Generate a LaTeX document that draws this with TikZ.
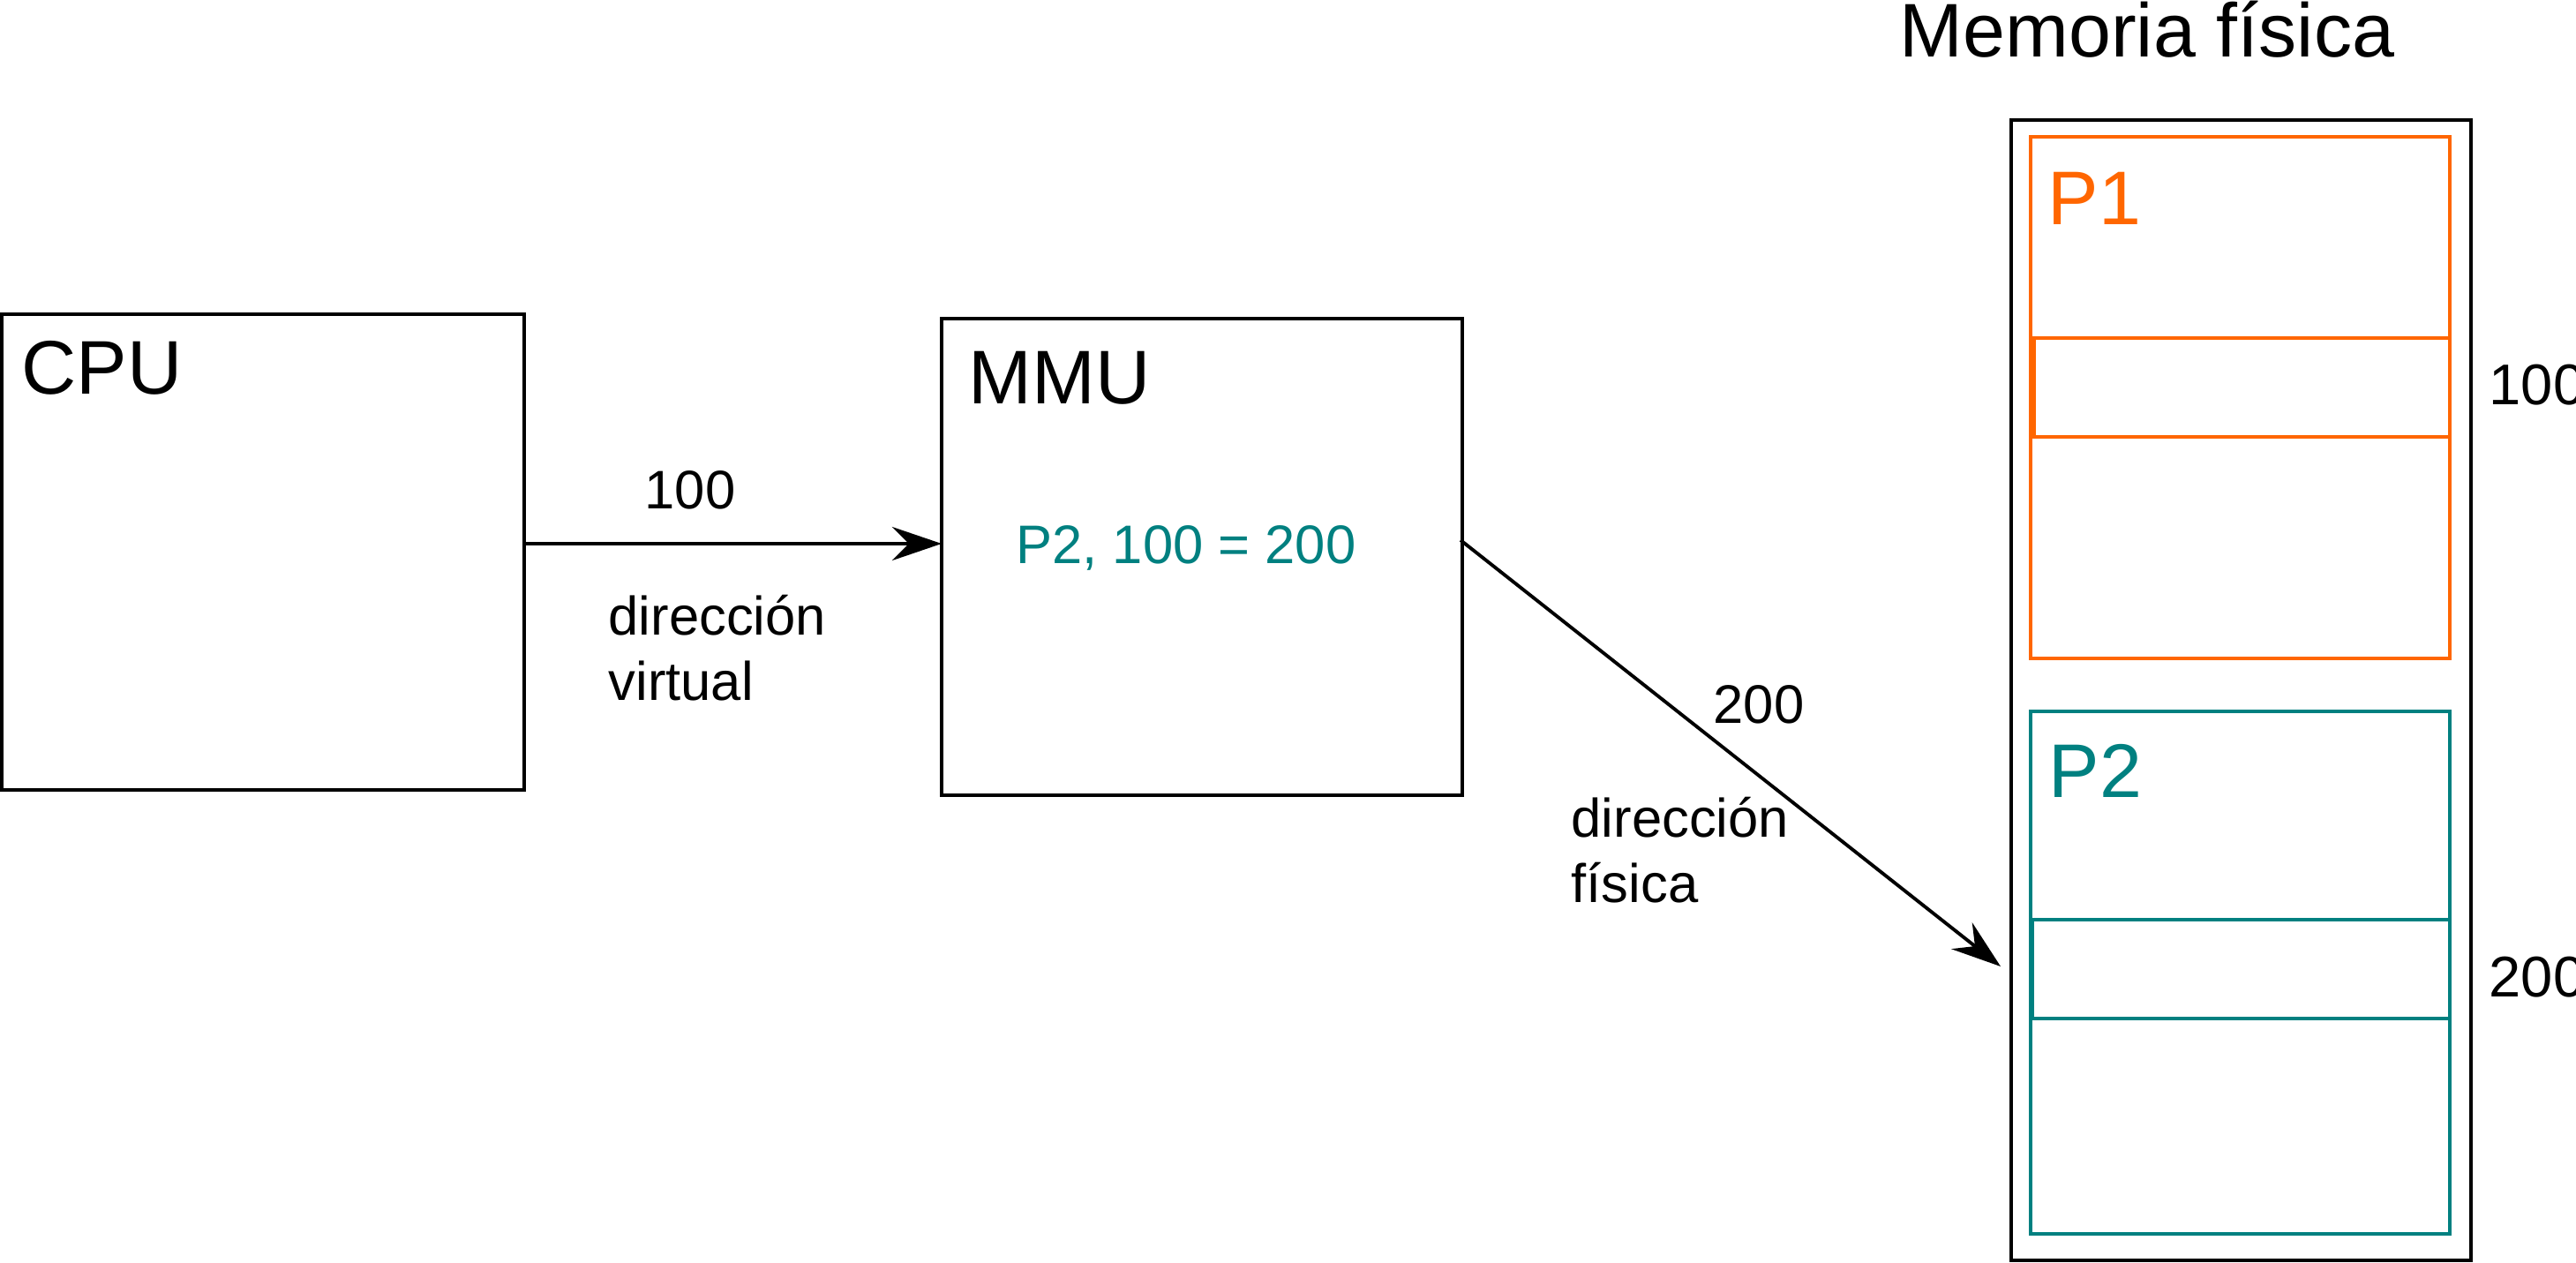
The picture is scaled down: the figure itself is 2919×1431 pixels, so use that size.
\documentclass[tikz,border=0pt]{standalone}
\usepackage{fontspec}
\setmainfont{Liberation Sans}
\usetikzlibrary{arrows.meta}
\definecolor{porange}{HTML}{FF6600}
\definecolor{pteal}{HTML}{008080}
\begin{document}
\begin{tikzpicture}[x=0.01cm,y=-0.01cm,
  box/.style={draw,line width=1.2pt,inner sep=0,outer sep=0,anchor=north west},
  pbox/.style={draw,line width=0.95pt,inner sep=0,outer sep=0,anchor=north west},
  big/.style={font=\fontsize{24.5}{28}\selectfont,inner sep=0,anchor=base west},
  lbl/.style={font=\fontsize{17.5}{22}\selectfont,inner sep=0},
  side/.style={font=\fontsize{18.5}{22}\selectfont,inner sep=0,anchor=base west},
  arr/.style={line width=1.1pt,-{Stealth[length=0.56cm,width=0.38cm,inset=0.19cm]}}]
\useasboundingbox (0,0) rectangle (2919,1431);
% boxes
\node[box,minimum width=592*0.01cm,minimum height=539*0.01cm] (cpu) at (2,356) {};
\node[box,minimum width=590*0.01cm,minimum height=540*0.01cm] (mmu) at (1067,361) {};
\node[box,minimum width=521*0.01cm,minimum height=1292*0.01cm] (mem) at (2279,136) {};
\node[pbox,draw=porange,minimum width=475*0.01cm,minimum height=591*0.01cm] (p1) at (2301,155) {};
\node[pbox,draw=porange,minimum width=471*0.01cm,minimum height=112*0.01cm] (p1in) at (2305,383) {};
\node[pbox,draw=pteal,minimum width=475*0.01cm,minimum height=592*0.01cm] (p2) at (2301,806) {};
\node[pbox,draw=pteal,minimum width=473*0.01cm,minimum height=112*0.01cm] (p2in) at (2303,1042) {};
% texts
\node[big] (cputxt) at (24,447) {CPU};
\node[big] (mmutxt) at (1097,458) {MMU};
\node[big,text=porange] (p1txt) at (2320,255) {P1};
\node[big,text=pteal] (p2txt) at (2321,903) {P2};
\node[big,anchor=base] (title) at (2433,65) {Memoria física};
\node[font=\fontsize{17.5}{21}\selectfont,inner sep=0,anchor=base,text=pteal] (map) at (1344,639) {P2, 100 = 200};
\node[side] (s100) at (2820,459) {100};
\node[side] (s200) at (2820,1129) {200};
% connectors
\coordinate (a1s) at (594,616);
\coordinate (a1e) at (1067,616);
\draw[arr] (a1s) -- (a1e);
\node[lbl,anchor=base] (l100) at (782,577) {100};
\node[lbl,anchor=base west,align=left] (lvirt) at (689,793) {dirección\\[-1.2pt]virtual};
\coordinate (a2s) at (1655,612);
\coordinate (a2e) at (2267,1095);
\draw[arr] (a2s) -- (a2e);
\node[lbl,anchor=base] (l200) at (1993,819) {200};
\node[lbl,anchor=base west,align=left] (lfis) at (1780,1022) {dirección\\[-1.2pt]física};
\end{tikzpicture}
\end{document}
